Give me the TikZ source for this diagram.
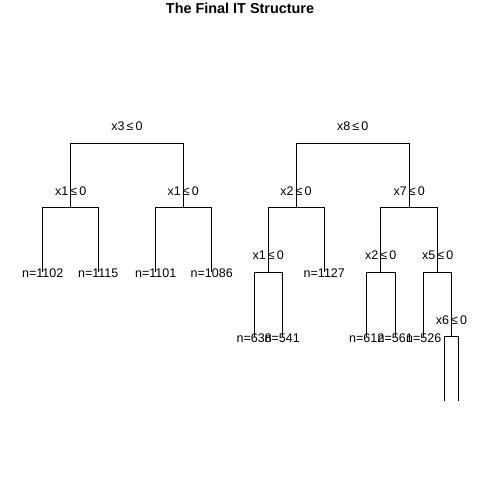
\documentclass[tikz,border=0pt]{standalone}
\usepackage{fontspec}
\setmainfont{Liberation Sans}
\begin{document}
\begin{tikzpicture}[x=1pt,y=-1pt,
  branch/.style={line width=0.9pt},
  split/.style={font=\fontsize{12.5}{14}\selectfont, inner sep=0pt},
  leaf/.style={font=\fontsize{12.5}{14}\selectfont, inner sep=0pt}]

  \useasboundingbox (0,0) rectangle (480,480);

  %% Title
  \node[font=\bfseries\fontsize{14.4}{16}\selectfont] (title) at (240,8.5) {The Final IT Structure};

  %% Left tree
  \coordinate (a) at (127,143);
  \coordinate (a1) at (70.7,207.5);
  \coordinate (a2) at (183.3,207.5);
  \coordinate (a11) at (42.7,272);
  \coordinate (a12) at (98.3,272);
  \coordinate (a21) at (155.7,272);
  \coordinate (a22) at (211.7,272);

  \draw[branch] (a) -| (a1);
  \draw[branch] (a) -| (a2);
  \draw[branch] (a1) -| (a11);
  \draw[branch] (a1) -| (a12);
  \draw[branch] (a2) -| (a21);
  \draw[branch] (a2) -| (a22);

  \node[split] (sa) at (127,126.5) {x3\,≤\,0};
  \node[split] (sa1) at (70.7,191) {x1\,≤\,0};
  \node[split] (sa2) at (183.3,191) {x1\,≤\,0};
  \node[leaf] (na11) at (42.7,273.5) {n=1102};
  \node[leaf] (na12) at (98.3,273.5) {n=1115};
  \node[leaf] (na21) at (155.7,273.5) {n=1101};
  \node[leaf] (na22) at (211.7,273.5) {n=1086};

  %% Right tree
  \coordinate (b) at (352.7,143);
  \coordinate (b1) at (296,207.5);
  \coordinate (b2) at (409.3,207.5);
  \coordinate (b11) at (268.3,272);
  \coordinate (b12) at (324.3,272);
  \coordinate (b21) at (380.7,272);
  \coordinate (b22) at (437.7,272);
  \coordinate (b111) at (254.3,336.5);
  \coordinate (b112) at (282.3,336.5);
  \coordinate (b211) at (366.7,336.5);
  \coordinate (b212) at (395.3,336.5);
  \coordinate (b221) at (423.7,336.5);
  \coordinate (b222) at (451.5,336.5);
  \coordinate (b2221) at (444.5,401);
  \coordinate (b2222) at (458.5,401);

  \draw[branch] (b) -| (b1);
  \draw[branch] (b) -| (b2);
  \draw[branch] (b1) -| (b11);
  \draw[branch] (b1) -| (b12);
  \draw[branch] (b2) -| (b21);
  \draw[branch] (b2) -| (b22);
  \draw[branch] (b11) -| (b111);
  \draw[branch] (b11) -| (b112);
  \draw[branch] (b21) -| (b211);
  \draw[branch] (b21) -| (b212);
  \draw[branch] (b22) -| (b221);
  \draw[branch] (b22) -| (b222);
  \draw[branch] (b222) -| (b2221);
  \draw[branch] (b222) -| (b2222);

  \node[split] (sb) at (352.7,126.5) {x8\,≤\,0};
  \node[split] (sb1) at (296,191) {x2\,≤\,0};
  \node[split] (sb2) at (409.3,191) {x7\,≤\,0};
  \node[split] (sb11) at (268.3,255.5) {x1\,≤\,0};
  \node[split] (sb21) at (380.7,255.5) {x2\,≤\,0};
  \node[split] (sb22) at (437.7,255.5) {x5\,≤\,0};
  \node[split] (sb222) at (451.5,320.5) {x6\,≤\,0};
  \node[leaf] (nb12) at (324.3,273.5) {n=1127};
  \node[leaf] (nb111) at (254.3,338) {n=638};
  \node[leaf] (nb112) at (282.3,338) {n=541};
  \node[leaf] (nb211) at (366.7,338) {n=612};
  \node[leaf] (nb212) at (395.3,338) {n=561};
  \node[leaf] (nb221) at (423.7,338) {n=526};

\end{tikzpicture}
\end{document}
